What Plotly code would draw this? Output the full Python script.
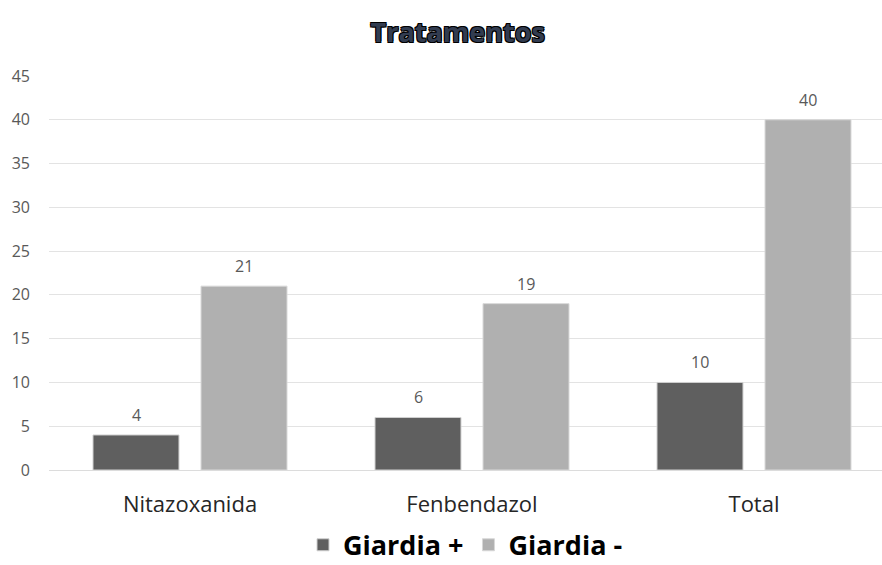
import plotly.graph_objects as go

categories = ["Nitazoxanida", "Fenbendazol", "Total"]
giardia_pos = [4, 6, 10]
giardia_neg = [21, 19, 40]
series_names = ["Giardia +", "Giardia -"]
y_ticks = [0, 5, 10, 15, 20, 25, 30, 35, 40, 45]
title_text = "Tratamentos"

base_font = "Open Sans, Liberation Sans, sans-serif"
label_font = dict(family=base_font, size=16, color="#595959")

fig = go.Figure()
fig.add_trace(go.Bar(
    x=categories, y=giardia_pos, name=series_names[0],
    marker=dict(color="#5f5f5f", line=dict(color="#d0d0d0", width=1)),
))
fig.add_trace(go.Bar(
    x=categories, y=giardia_neg, name=series_names[1],
    marker=dict(color="#b0b0b0", line=dict(color="#d8d8d8", width=1)),
))

# data labels above each bar (offset by half a bar slot within the group)
for vals, shift in ((giardia_pos, -54), (giardia_neg, 54)):
    for c, v in zip(categories, vals):
        fig.add_annotation(x=c, y=v, text=str(v), showarrow=False, xshift=shift,
                           yanchor="bottom", yshift=7, font=label_font)

fig.update_layout(
    width=882, height=565,
    margin=dict(l=49, r=0, t=76, b=95, autoexpand=False),
    paper_bgcolor="white", plot_bgcolor="white",
    barmode="group", bargap=0.234, bargroupgap=0.204,
    title=dict(
        text=title_text, x=0.519, xanchor="center", y=0.942, yanchor="middle",
        font=dict(family="Open Sans, sans-serif", size=27, color="#323c50", weight="bold",
                  shadow="-1px -1px 0 #000, 1px -1px 0 #000, -1px 1px 0 #000, 1px 1px 0 #000"),
    ),
    xaxis=dict(
        range=[-0.5, -0.5 + 833 / 282], showgrid=False, showline=False, ticks="",
        tickfont=dict(family=base_font, size=22, color="#262626"),
        ticklabelstandoff=19, automargin=False,
    ),
    yaxis=dict(
        range=[0, 45], tickvals=y_ticks, showgrid=True, gridcolor="#e3e3e3", gridwidth=1,
        zeroline=True, zerolinecolor="#dcdcdc", zerolinewidth=1, showline=False, ticks="",
        tickfont=dict(family=base_font, size=16, color="#595959"),
        ticklabelstandoff=18, automargin=False,
    ),
    legend=dict(
        orientation="h", x=0.5, xanchor="center", yref="container", y=0.035, yanchor="middle",
        font=dict(family="Open Sans, sans-serif", size=27, color="#000000", weight="bold"),
        itemwidth=30, traceorder="normal",
    ),
)

fig.write_html("out.html")
